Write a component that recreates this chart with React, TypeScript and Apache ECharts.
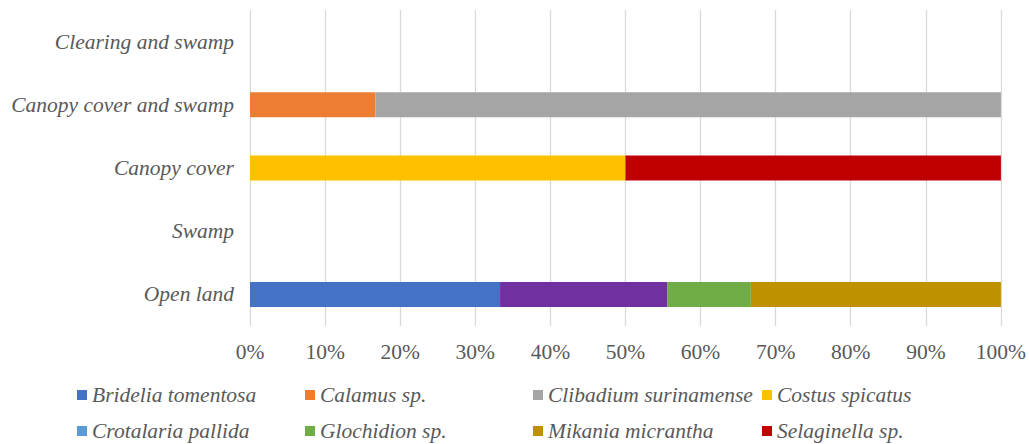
import React, { useEffect, useRef } from "react";
import * as echarts from "echarts";

const categories = ["Open land", "Swamp", "Canopy cover", "Canopy cover and swamp", "Clearing and swamp"];
const xTicks = [0, 10, 20, 30, 40, 50, 60, 70, 80, 90, 100];

const bridelia = [33.3, 0, 0, 0, 0];
const calamus = [0, 0, 0, 16.7, 0];
const clibadium = [0, 0, 0, 83.3, 0];
const costus = [0, 0, 50, 0, 0];
const crotalaria = [0, 0, 0, 0, 0];
const unlisted = [22.3, 0, 0, 0, 0];
const glochidion = [11.1, 0, 0, 0, 0];
const mikania = [33.3, 0, 0, 0, 0];
const selaginella = [0, 0, 50, 0, 0];

const seriesDefs = [
  { name: "Bridelia tomentosa", data: bridelia, color: "#4472C4" },
  { name: "Calamus sp.", data: calamus, color: "#ED7D31" },
  { name: "Clibadium surinamense", data: clibadium, color: "#A5A5A5" },
  { name: "Costus spicatus", data: costus, color: "#FFC000" },
  { name: "Crotalaria pallida", data: crotalaria, color: "#5B9BD5" },
  { name: "Unlisted species", data: unlisted, color: "#7030A0" },
  { name: "Glochidion sp.", data: glochidion, color: "#70AD47" },
  { name: "Mikania micrantha", data: mikania, color: "#BF9000" },
  { name: "Selaginella sp.", data: selaginella, color: "#C00000" },
];

const legendRow1 = ["Bridelia tomentosa", "Calamus sp.", "Clibadium surinamense", "Costus spicatus"];
const legendRow2 = ["Crotalaria pallida", "Glochidion sp.", "Mikania micrantha", "Selaginella sp."];
const legendColumnsLeft = [77, 305, 533, 762];
const legendRowsTop = [384, 420];

const FONT = "'Liberation Serif', 'Times New Roman', serif";
const ITALIC_SIZE = 21.5;
const TICK_SIZE = 21.5;

export default function App() {
  const ref = useRef<HTMLDivElement>(null);
  useEffect(() => {
    if (!ref.current) return;
    const chart = echarts.init(ref.current, undefined, { renderer: "svg" });
    const legends: any[] = [];
    [legendRow1, legendRow2].forEach((row, r) => {
      row.forEach((name, c) => {
        legends.push({
          left: legendColumnsLeft[c],
          top: legendRowsTop[r],
          padding: 0,
          itemWidth: 10,
          itemHeight: 10,
          icon: "rect",
          selectedMode: false,
          data: [name],
          textStyle: {
            fontFamily: FONT,
            fontStyle: "italic",
            fontSize: ITALIC_SIZE,
            color: "#595959",
          },
        });
      });
    });
    chart.setOption({
      animation: false,
      textStyle: { fontFamily: FONT },
      grid: { left: 250, right: 27, top: 10, bottom: 118, containLabel: false },
      legend: legends,
      xAxis: {
        type: "value",
        min: xTicks[0],
        max: xTicks[xTicks.length - 1],
        interval: 10,
        axisLine: { show: false },
        axisTick: { show: false },
        splitLine: { show: true, lineStyle: { color: "#D9D9D9", width: 1.3 } },
        axisLabel: {
          formatter: (v: number) => v + "%",
          fontFamily: FONT,
          fontSize: TICK_SIZE,
          color: "#595959",
          margin: 15,
        },
      },
      yAxis: {
        type: "category",
        data: categories,
        axisLine: { show: false },
        axisTick: { show: false },
        splitLine: { show: false },
        axisLabel: {
          fontFamily: FONT,
          fontStyle: "italic",
          fontSize: ITALIC_SIZE,
          color: "#595959",
          margin: 16,
        },
      },
      series: seriesDefs.map((s) => ({
        name: s.name,
        type: "bar",
        stack: "total",
        barWidth: 25,
        data: s.data,
        itemStyle: { color: s.color },
      })),
    });
    return () => chart.dispose();
  }, []);
  return <div ref={ref} style={{ width: 1029, height: 444, position: "absolute", left: 0, top: 0 }} />;
}
